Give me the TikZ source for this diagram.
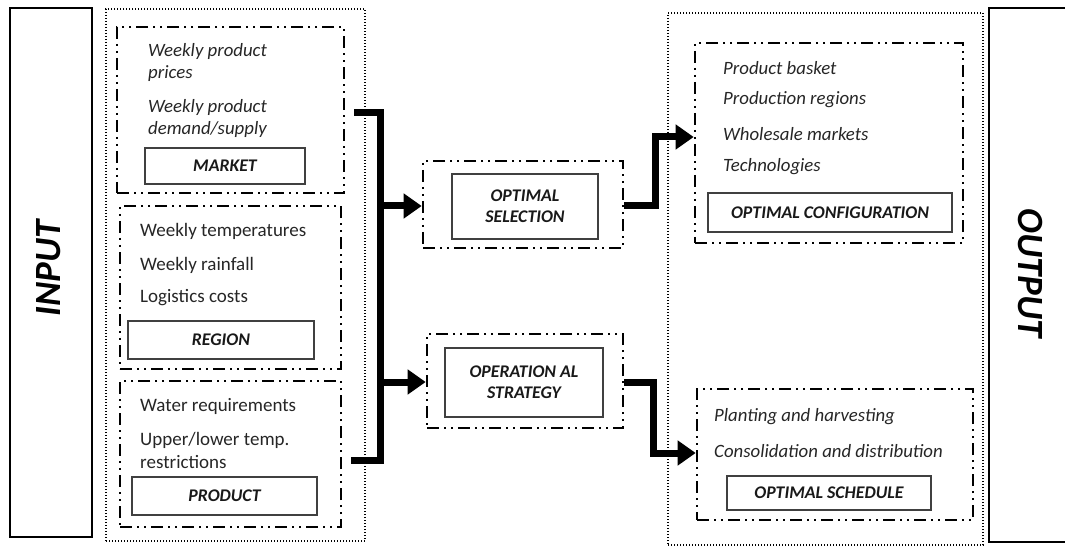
\documentclass[tikz,border=0pt]{standalone}
\usepackage{fontspec}
\setmainfont{Carlito}
\usetikzlibrary{arrows.meta,calc}
\definecolor{ink}{HTML}{262626}
\begin{document}
\begin{tikzpicture}[x=1pt,y=-1pt,
  side/.style={draw=black,line width=1.8pt,rectangle,inner sep=0pt},
  outer/.style={draw=black,line width=1.6pt,dash pattern=on 1pt off 2pt,rectangle,inner sep=0pt},
  group/.style={draw=black,line width=2.6pt,dash pattern=on 12pt off 5pt on 2pt off 5pt on 2pt off 5pt,rectangle,inner sep=0pt},
  tag/.style={draw=black!75,line width=1.2pt,rectangle,inner sep=0pt,text=black!90,
    font=\fontsize{17.8}{21}\selectfont\bfseries\itshape,align=center},
  item/.style={anchor=west,inner sep=0pt,text=ink,align=left,font=\fontsize{18.8}{22}\selectfont\itshape},
  plain/.style={anchor=west,inner sep=0pt,text=ink,align=left,font=\fontsize{19}{23}\selectfont},
  bus/.style={line width=7pt,line join=miter,draw=black},
  arr/.style={bus,-{Triangle[length=18pt,width=24pt]}},
  title/.style={inner sep=0pt,text=black,font=\fontsize{37}{37}\selectfont\bfseries\itshape}
]
\useasboundingbox (0,0) rectangle (1065,548);

% side panels
\node[side,minimum width=82pt,minimum height=529pt] (inp) at (51,272.5) {};
\node[title,rotate=90] (inptxt) at (49,268) {INPUT};
\node[side,minimum width=80pt,minimum height=534pt] (out) at (1029,275) {};
\node[title,rotate=-90] (outtxt) at (1030,273) {OUTPUT};

% dotted containers
\node[outer,minimum width=259pt,minimum height=532pt] (inbox) at (235.5,275) {};
\node[outer,minimum width=315pt,minimum height=532pt] (outbox) at (825.5,279) {};

% market
\node[group,minimum width=227pt,minimum height=166pt] (mkt) at (230.5,110) {};
\node[item] (m1) at (148,62.5) {Weekly product\\prices};
\node[item] (m2) at (148,118.5) {Weekly product\\demand/supply};
\node[tag,minimum width=160pt,minimum height=36pt] (mktl) at (225,166) {MARKET};

% region
\node[group,minimum width=221pt,minimum height=163pt] (reg) at (230.5,287.5) {};
\node[plain] (r1) at (140,231) {Weekly temperatures};
\node[plain] (r2) at (140,265) {Weekly rainfall};
\node[plain] (r3) at (140,298) {Logistics costs};
\node[tag,minimum width=186pt,minimum height=38pt] (regl) at (221,340) {REGION};

% product
\node[group,minimum width=221pt,minimum height=146pt] (prd) at (230.5,454) {};
\node[plain] (p1) at (140,406) {Water requirements};
\node[plain] (p2) at (140,450) {Upper/lower temp.\\restrictions};
\node[tag,minimum width=185pt,minimum height=38pt] (prdl) at (224.5,496) {PRODUCT};

% middle stages
\node[group,minimum width=200pt,minimum height=87pt] (sel) at (523,204.5) {};
\node[tag,minimum width=146pt,minimum height=65pt] (sell) at (525,206.5) {OPTIMAL\\SELECTION};
\node[group,minimum width=196pt,minimum height=94pt] (strat) at (525,381) {};
\node[tag,minimum width=158pt,minimum height=69pt] (stratl) at (524,382.5) {OPERATION AL\\STRATEGY};

% configuration
\node[group,minimum width=268pt,minimum height=200pt] (conf) at (829,143) {};
\node[item] (c1t) at (723,68) {Product basket};
\node[item] (c2t) at (723,100) {Production regions};
\node[item] (c3t) at (723,134) {Wholesale markets};
\node[item] (c4t) at (723,167) {Technologies};
\node[tag,minimum width=244pt,minimum height=39pt] (confl) at (830,212.5) {OPTIMAL CONFIGURATION};

% schedule
\node[group,minimum width=276pt,minimum height=131pt] (sched) at (835,454.5) {};
\node[item] (s1) at (714,417) {Planting and harvesting};
\node[item] (s2) at (714,451) {Consolidation and distribution};
\node[tag,minimum width=204pt,minimum height=34pt] (schedl) at (829,493) {OPTIMAL SCHEDULE};

% collector bus from the input groups
\coordinate (btop) at (380,113);
\coordinate (bbot) at (380,460);
\coordinate (bsel) at (380,206);
\coordinate (bstr) at (380,382);
\draw[bus] ([xshift=9pt]mkt.east |- btop) -- (btop) -- (bbot) -- ([xshift=9pt]prd.east |- bbot);
\draw[arr] (bsel) -- (bsel -| sel.west);
\draw[arr] (bstr) -- (bstr -| strat.west);

% links to the outputs
\coordinate (k1) at (655,137);
\coordinate (k2) at (653,453);
\draw[arr] (sel.east |- bsel) -| (k1) -- (k1 -| conf.west);
\draw[arr] (strat.east |- bstr) -| (k2) -- (k2 -| sched.west);
\end{tikzpicture}
\end{document}
